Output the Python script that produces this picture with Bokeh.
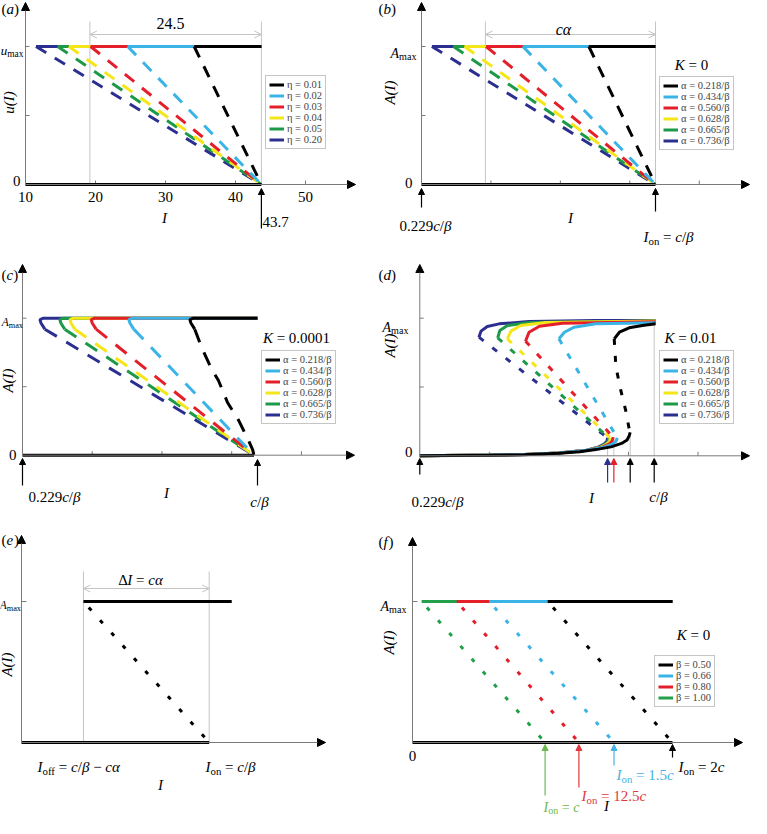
import math
from bokeh.plotting import figure
from bokeh.models import Range1d, Label, Arrow, NormalHead, OpenHead, Legend, LegendItem
from bokeh.layouts import column, row
from bokeh.embed import file_html
from bokeh.resources import INLINE
from bokeh.core.properties import value

# ------------------------------------------------------------------ data
series_colors = ["#000000", "#3ab4e6", "#e41f2a", "#f5e61a", "#1c9a48", "#2b2f8f"]
eta_labels = ["η = 0.01", "η = 0.02", "η = 0.03", "η = 0.04", "η = 0.05", "η = 0.20"]
alpha_labels = ["α = 0.218/β", "α = 0.434/β", "α = 0.560/β", "α = 0.628/β", "α = 0.665/β", "α = 0.736/β"]

# panels (a) and (b): K = 0
ab_i_min = 10.0            # 0.229 c/beta
ab_i_on = 43.7             # c/beta
ab_i_off = [34.1, 24.6, 19.3, 16.2, 14.6, 11.5]
ab_width = 24.5
a_xticks = [10, 20, 30, 40, 50]
a_xtick_labels = ["10", "20", "30", "40", "50"]
ab_yticks = [0.5, 1.0]
a_on_label = "43.7"

# panel (c): K = 0.0001
c_upper_x = [[34.7, 34.15, 34.0, 34.5, 43.7],
             [25.95, 25.4, 25.25, 25.75, 43.7],
             [20.55, 20.0, 19.85, 20.35, 43.7],
             [17.5, 16.95, 16.8, 17.3, 43.7],
             [16.05, 15.5, 15.35, 15.85, 43.7],
             [13.2, 12.65, 12.5, 13.0, 43.7]]
c_upper_y = [0.92, 0.965, 0.99, 1.0, 1.0]
c_lower_x = [[34.7, 35.7, 37.1, 38.1, 39.4, 41.0, 42.3, 43.0, 43.2],
             [25.95, 43.2], [20.55, 43.2], [17.5, 43.2], [16.05, 43.2], [13.2, 43.2]]
c_lower_y = [[0.92, 0.785, 0.63, 0.545, 0.385, 0.254, 0.12, 0.04, 0.0],
             [0.92, 0.0], [0.92, 0.0], [0.92, 0.0], [0.92, 0.0], [0.92, 0.0]]
c_zero_end = 43.2
c_on = 43.7

# panel (d): K = 0.01
d_upper_x = [[37.95, 38.7, 40.1, 42.0, 43.9],
             [30.0, 30.8, 32.2, 35.3, 43.9],
             [25.2, 25.7, 27.2, 30.5, 43.9],
             [22.6, 23.1, 24.5, 28.1, 43.9],
             [21.2, 21.5, 22.6, 25.7, 43.9],
             [18.5, 18.8, 19.7, 21.4, 25.7, 35.3, 43.9]]
d_upper_y = [[0.85, 0.898, 0.93, 0.947, 0.96],
             [0.85, 0.898, 0.935, 0.96, 0.967],
             [0.833, 0.898, 0.942, 0.964, 0.975],
             [0.85, 0.906, 0.947, 0.969, 0.98],
             [0.857, 0.91, 0.947, 0.969, 0.98],
             [0.862, 0.906, 0.94, 0.959, 0.976, 0.983, 0.983]]
d_mid_x = [[37.95, 38.2, 38.9, 39.6, 40.1, 40.25],
           [30.0, 38.4], [25.2, 37.8], [22.6, 37.4], [21.2, 37.2], [18.5, 37.0]]
d_mid_y = [[0.85, 0.644, 0.475, 0.33, 0.196, 0.17],
           [0.85, 0.13], [0.833, 0.135], [0.85, 0.13], [0.857, 0.13], [0.862, 0.13]]
d_low_x = [[10, 20, 25, 30, 33, 35.3, 37.5, 39.0, 39.8, 40.1, 40.25],
           [10, 25, 30, 34, 36.5, 37.7, 38.2, 38.4],
           [10, 25, 30, 34, 36.2, 37.2, 37.65, 37.8],
           [10, 25, 30, 34, 36.0, 36.9, 37.3, 37.4],
           [10, 25, 30, 34, 35.8, 36.7, 37.1, 37.2],
           [10, 25, 30, 34, 35.6, 36.5, 36.9, 37.0]]
d_low_y = [[0.0, 0.004, 0.008, 0.018, 0.03, 0.045, 0.065, 0.09, 0.115, 0.145, 0.17],
           [0.0, 0.009, 0.02, 0.04, 0.062, 0.085, 0.105, 0.13],
           [0.0, 0.009, 0.02, 0.04, 0.062, 0.085, 0.105, 0.135],
           [0.0, 0.009, 0.02, 0.04, 0.062, 0.085, 0.105, 0.13],
           [0.0, 0.009, 0.02, 0.04, 0.062, 0.085, 0.105, 0.13],
           [0.0, 0.009, 0.02, 0.04, 0.062, 0.085, 0.105, 0.13]]
d_mark_x = [37.0, 37.9, 40.25, 43.7]
d_mark_top = [0.13, 0.135, 0.17, 0.96]
d_mark_colors = ["#2b2f8f", "#e41f2a", "#000000", "#000000"]

# panel (e)
e_i_off = 0.33
e_i_on = 1.0
e_upper_end = 1.12

# panel (f): K = 0
f_labels = ["β = 0.50", "β = 0.66", "β = 0.80", "β = 1.00"]
f_colors = ["#000000", "#3ab4e6", "#e41f2a", "#22a04a"]
f_text_colors = ["#000000", "#45b3e3", "#e0383e", "#6cb94f"]
f_i_off = [1.04, 0.59, 0.34, 0.07]
f_i_on = [2.0, 1.55, 1.28, 1.02]
f_upper_end = 2.0
f_on_texts = ["2c", "1.5c", "12.5c", "c"]

# ------------------------------------------------------------------ helpers
FONT = "Liberation Serif"
AXIS = "#7a7a7a"
GUIDE = "#c4c4c4"

EM = {" ": 0.25, ".": 0.25, "/": 0.278, "=": 0.564, "−": 0.564, "(": 0.333, ")": 0.333,
      "a": 0.444, "c": 0.444, "f": 0.333, "m": 0.778, "n": 0.5, "o": 0.5, "x": 0.5,
      "A": 0.722, "I": 0.333, "K": 0.722, "Δ": 0.612, "α": 0.53, "β": 0.5, "u": 0.5}
EM_IT = {"A": 0.611, "I": 0.333, "K": 0.667, "c": 0.444, "u": 0.5, "a": 0.5, "α": 0.53, "β": 0.5}


def text_width(s, italic, size):
    tab = EM_IT if italic else EM
    return sum(tab.get(ch, EM.get(ch, 0.5)) for ch in s) * size


class Panel:
    def __init__(self, left, top, w, h, xa, pxa, xb, pxb, ya, pya, yb, pyb):
        self.left, self.top, self.w, self.h = left, top, w, h
        self.xa, self.pxa, self.ya, self.pya = xa, pxa, ya, pya
        self.kx = (xb - xa) / (pxb - pxa)
        self.ky = (yb - ya) / (pya - pyb)
        x0 = xa + (left - pxa) * self.kx
        x1 = xa + (left + w - pxa) * self.kx
        y1 = ya + (pya - top) * self.ky
        y0 = ya - (top + h - pya) * self.ky
        p = figure(width=w, height=h, x_range=Range1d(x0, x1), y_range=Range1d(y0, y1),
                   output_backend="svg", toolbar_location=None,
                   x_axis_location=None, y_axis_location=None,
                   min_border=0, min_border_left=0, min_border_right=0,
                   min_border_top=0, min_border_bottom=0)
        p.outline_line_color = None
        p.background_fill_color = "white"
        p.border_fill_color = "white"
        p.grid.visible = False
        self.p = p

    def X(self, px):
        return self.xa + (px - self.pxa) * self.kx

    def Y(self, py):
        return self.ya + (self.pya - py) * self.ky

    def label(self, px, py, text, size=15, style="normal", align="left",
              baseline="middle", color="black", angle=0.0):
        self.p.add_layout(Label(x=px - self.left, y=self.top + self.h - py,
                                x_units="screen", y_units="screen", text=text,
                                text_font=FONT, text_font_size=f"{size}px",
                                text_font_style=style, text_align=align,
                                text_baseline=baseline, text_color=color, angle=angle))

    def rich(self, px, py, segs, size=15, align="left", color="black"):
        sub = round(0.72 * size, 1)
        sizes = [sub if k == "s" else size for t, k in segs]
        widths = [text_width(t, k == "i", fs) for (t, k), fs in zip(segs, sizes)]
        total = sum(widths)
        x = px - (total / 2 if align == "center" else total if align == "right" else 0)
        base = py + 0.33 * size
        for (t, k), wd, fs in zip(segs, widths, sizes):
            lead = len(t) - len(t.lstrip(" "))
            s = t.strip(" ")
            xs = x + lead * 0.25 * fs
            if s:
                if k == "s":
                    self.label(xs, base + 0.25 * size, s, size=fs, baseline="alphabetic", color=color)
                else:
                    self.label(xs, base, s, size=fs, style="italic" if k == "i" else "normal",
                               baseline="alphabetic", color=color)
            x += wd

    def axes(self, x0, y0, tip_px, tip_py):
        head = dict(size=8, fill_color="black", line_color="black")
        self.p.add_layout(Arrow(x_start=x0, y_start=y0, x_end=x0, y_end=self.Y(tip_py),
                                line_color=AXIS, line_width=1, end=NormalHead(**head)))
        self.p.add_layout(Arrow(x_start=x0, y_start=y0, x_end=self.X(tip_px), y_end=y0,
                                line_color=AXIS, line_width=1, end=NormalHead(**head)))

    def xticks(self, ticks, y0, length=4):
        n = len(ticks)
        self.p.segment(x0=ticks, y0=[y0] * n, x1=ticks, y1=[y0 + length * self.ky] * n,
                       line_color=AXIS, line_width=1)

    def yticks(self, ticks, x0, length=4):
        n = len(ticks)
        self.p.segment(x0=[x0] * n, y0=ticks, x1=[x0 + length * self.kx] * n, y1=ticks,
                       line_color=AXIS, line_width=1)

    def pointer(self, x, py_from, py_to, color="black"):
        self.p.add_layout(Arrow(x_start=x, y_start=self.Y(py_from), x_end=x, y_end=self.Y(py_to),
                                line_color=color, line_width=1.2,
                                end=NormalHead(size=6, fill_color=color, line_color=color)))

    def guides(self, xs, y0, py_top, py_arrow):
        self.p.segment(x0=xs, y0=[y0] * len(xs), x1=xs, y1=[self.Y(py_top)] * len(xs),
                       line_color=GUIDE, line_width=1)
        self.p.add_layout(Arrow(x_start=xs[0], y_start=self.Y(py_arrow), x_end=xs[1],
                                y_end=self.Y(py_arrow), line_color=GUIDE, line_width=1,
                                start=OpenHead(size=7, line_color=GUIDE, line_width=1),
                                end=OpenHead(size=7, line_color=GUIDE, line_width=1)))

    def legend(self, items, sx, sy):
        self.p.add_layout(Legend(items=items, location=(sx, sy), label_text_font=FONT,
                                 label_text_font_size="10.5px", label_height=11, glyph_height=11,
                                 glyph_width=15, label_standoff=3, spacing=-1, padding=3,
                                 margin=0, border_line_color="#8c8c8c", border_line_width=1,
                                 background_fill_color="white", background_fill_alpha=1.0))


def k_zero_curves(pn, labels):
    p = pn.p
    rends = {}
    for i in reversed(range(6)):
        c = series_colors[i]
        rends[i] = p.line([ab_i_off[i], ab_i_on], [1.0, 1.0], line_color=c, line_width=3)
    for i in reversed(range(6)):
        c = series_colors[i]
        p.line([ab_i_off[i], ab_i_on], [1.0, 0.0], line_color=c, line_width=3, line_dash="12 10")
    p.line([ab_i_min, ab_i_on], [0.0, 0.0], line_color="black", line_width=3)
    return [LegendItem(label=labels[i], renderers=[rends[i]]) for i in range(6)]


def paren(pn, px, py, letter):
    pn.rich(px, py, [("(", "n"), (letter, "i"), (")", "n")], 15)


def cbeta(pn, px, py, prefix="0.229", align="center"):
    segs = ([(prefix, "n")] if prefix else []) + [("c", "i"), ("/", "n"), ("β", "i")]
    pn.rich(px, py, segs, 15, align=align)


ON_EQ = [("I", "i"), ("on", "s"), (" = ", "n")]

# ------------------------------------------------------------------ (a)
pa = Panel(8, 8, 376, 257, 10, 33, 50, 313, 0, 192, 1, 54)
pa.guides([ab_i_on - ab_width, ab_i_on], 0, 29, 42)
pa.axes(ab_i_min, 0, 363, 10)
pa.xticks(a_xticks[1:], 0)
pa.yticks(ab_yticks, ab_i_min)
items_a = k_zero_curves(pa, eta_labels)
pa.legend(items_a, 265, 108)
pa.p.text(x=a_xticks, y=[0] * len(a_xticks), text=a_xtick_labels, y_offset=12,
          text_align="center", text_baseline="middle", text_font=value(FONT),
          text_font_size=value("15px"), text_color="black")
paren(pa, 9, 12, "a")
pa.rich(31, 54, [("u", "i"), ("max", "s")], 13, align="right")
pa.label(28, 188, "0", 15, align="right")
pa.label(16, 110, "u(I)", 15, style="italic", align="center", angle=math.pi / 2)
pa.label(172, 225, "I", 15, style="italic", align="center")
pa.label(178, 31, str(ab_width), 16, align="center")
pa.pointer(ab_i_on, 236, 196)
pa.label(270, 229, a_on_label, 15)

# ------------------------------------------------------------------ (b)
pb = Panel(384, 8, 375, 257, 10, 429, 43.7, 663, 0, 192, 1, 54)
pb.guides([ab_i_on - ab_width, ab_i_on], 0, 29, 42)
pb.axes(ab_i_min, 0, 757, 10)
pb.xticks(a_xticks[1:], 0)
pb.yticks(ab_yticks, ab_i_min)
items_b = k_zero_curves(pb, alpha_labels)
pb.legend(items_b, 283, 107)
paren(pb, 386, 12, "b")
pb.rich(424, 56, [("A", "i"), ("max", "s")], 14, align="right")
pb.label(420, 190, "0", 15, align="right")
pb.label(397, 100, "A(I)", 15, style="italic", align="center", angle=math.pi / 2)
pb.rich(571, 32, [("c", "i"), ("α", "i")], 16, align="center")
pb.rich(699, 68, [("K", "i"), (" = 0", "n")], 15, align="center")
pb.pointer(ab_i_min, 215, 196)
cbeta(pb, 433, 229)
pb.label(578, 225, "I", 15, style="italic", align="center")
pb.pointer(ab_i_on, 219, 196)
pb.rich(651, 240, ON_EQ + [("c", "i"), ("/", "n"), ("β", "i")], 15)

# ------------------------------------------------------------------ (c)
pc = Panel(8, 265, 376, 270, 10, 30, 43.7, 265, 0, 462.7, 1, 325.7)
pc.axes(ab_i_min, 0, 362, 272)
pc.xticks(a_xticks[1:], 0)
pc.yticks(ab_yticks, ab_i_min)
rc = {}
for i in reversed(range(6)):
    rc[i] = pc.p.line(c_upper_x[i], c_upper_y, line_color=series_colors[i], line_width=3)
for i in reversed(range(6)):
    pc.p.line(c_lower_x[i], c_lower_y[i], line_color=series_colors[i], line_width=3,
              line_dash="14 11")
pc.p.line([ab_i_min, c_zero_end], [0, 0], line_color="black", line_width=3)
pc.legend([LegendItem(label=alpha_labels[i], renderers=[rc[i]]) for i in range(6)], 261, 103)
paren(pc, 9, 278, "c")
pc.rich(30.5, 326, [("A", "i"), ("max", "s")], 11.5, align="right")
pc.label(24, 462, "0", 15, align="right")
pc.label(15, 388, "A(I)", 15, style="italic", align="center", angle=math.pi / 2)
pc.rich(304, 341, [("K", "i"), (" = 0.0001", "n")], 15, align="center")
pc.pointer(ab_i_min, 493, 466)
cbeta(pc, 62, 500)
pc.label(174, 500, "I", 15, style="italic", align="center")
pc.pointer(c_on, 493, 467)
cbeta(pc, 267, 505, prefix="")

# ------------------------------------------------------------------ (d)
pd = Panel(384, 265, 375, 270, 10, 427.3, 43.7, 661.7, 0, 463.3, 1, 325.7)
pd.p.segment(x0=d_mark_x, y0=[0] * 4, x1=d_mark_x, y1=d_mark_top, line_color=GUIDE, line_width=1)
pd.axes(ab_i_min, 0, 757, 272)
pd.xticks(a_xticks[1:], 0)
pd.yticks(ab_yticks, ab_i_min)
rd = {}
for i in reversed(range(6)):
    c = series_colors[i]
    rd[i] = pd.p.line(d_upper_x[i], d_upper_y[i], line_color=c, line_width=3)
    pd.p.line(d_mid_x[i], d_mid_y[i], line_color=c, line_width=3, line_dash="6 11")
    pd.p.line(d_low_x[i], d_low_y[i], line_color=c, line_width=3)
pd.legend([LegendItem(label=alpha_labels[i], renderers=[rd[i]]) for i in range(6)], 283, 103)
paren(pd, 386, 278, "d")
pd.rich(416, 330, [("A", "i"), ("max", "s")], 14, align="right")
pd.label(397, 353, "A(I)", 15, style="italic", align="center", angle=math.pi / 2)
pd.label(420, 459, "0", 15, align="right")
pd.rich(698, 341, [("K", "i"), (" = 0.01", "n")], 15, align="center")
for xm, cm in zip(d_mark_x, d_mark_colors):
    pd.pointer(xm, 490, 466, color=cm)
pd.pointer(ab_i_min, 482, 466)
cbeta(pd, 445, 505)
pd.label(599, 505, "I", 15, style="italic", align="center")
cbeta(pd, 666, 500, prefix="")

# ------------------------------------------------------------------ (e)
pe = Panel(8, 535, 376, 289, 0, 29, 1, 216.7, 0, 750, 1, 609)
pe.guides([e_i_off, e_i_on], 0, 579, 596)
pe.axes(0, 0, 333, 543)
pe.yticks([1.0], 0, length=5)
pe.p.line([e_i_off, e_upper_end], [1, 1], line_color="black", line_width=3)
pe.p.line([e_i_off, e_i_on], [1, 0], line_color="black", line_width=3,
          line_dash="4 13", line_dash_offset=9)
pe.p.line([0, e_i_on], [0, 0], line_color="black", line_width=3)
paren(pe, 9, 543, "e")
pe.rich(28.5, 609, [("A", "i"), ("max", "s")], 11.5, align="right")
pe.label(14, 672, "A(I)", 15, style="italic", align="center", angle=math.pi / 2)
pe.rich(148, 583, [("Δ", "n"), ("I", "i"), (" = ", "n"), ("c", "i"), ("α", "i")], 15, align="center")
pe.rich(45, 770, [("I", "i"), ("off", "s"), (" = ", "n"), ("c", "i"), ("/", "n"), ("β", "i"),
                  (" − ", "n"), ("c", "i"), ("α", "i")], 15)
pe.rich(213, 770, ON_EQ + [("c", "i"), ("/", "n"), ("β", "i")], 15)
pe.label(168, 792, "I", 15, style="italic", align="center")

# ------------------------------------------------------------------ (f)
pf = Panel(384, 535, 375, 289, 0, 420, 2, 680, 0, 750, 1, 609)
pf.axes(0, 0, 750, 545)
pf.yticks([1.0], 0, length=5)
rf = {}
for i in reversed(range(4)):
    rf[i] = pf.p.line([f_i_off[i], f_upper_end], [1, 1], line_color=f_colors[i], line_width=3)
for i in reversed(range(4)):
    pf.p.line([f_i_off[i], f_i_on[i]], [1, 0], line_color=f_colors[i], line_width=3,
              line_dash="4 13", line_dash_offset=9)
pf.p.line([0, f_upper_end], [0, 0], line_color="black", line_width=3)
pf.legend([LegendItem(label=f_labels[i], renderers=[rf[i]]) for i in range(4)], 278, 109)
paren(pf, 386, 545, "f")
pf.rich(414, 609, [("A", "i"), ("max", "s")], 14, align="right")
pf.label(396, 650, "A(I)", 15, style="italic", align="center", angle=math.pi / 2)
pf.label(420, 763, "0", 15, align="center")
pf.rich(701, 638, [("K", "i"), (" = 0", "n")], 15, align="center")
f_ptr_from = [765, 773, 795, 803]
f_txt_pos = [(686, 770), (624, 778), (589, 799), (551, 810)]
for i in range(4):
    pf.pointer(f_i_on[i], f_ptr_from[i], 752, color=f_text_colors[i])
    tx, ty = f_txt_pos[i]
    txt = f_on_texts[i]
    segs = list(ON_EQ)
    num = txt[:-1]
    if num:
        segs.append((num, "n"))
    segs.append(("c", "i"))
    pf.rich(tx, ty, segs, 15 if i < 3 else 14, color=f_text_colors[i])
pf.label(614, 813, "I", 15, style="italic", align="center")

layout = column(row(pa.p, pb.p), row(pc.p, pd.p), row(pe.p, pf.p))
with open("out.html", "w") as fh:
    fh.write(file_html(layout, INLINE))
